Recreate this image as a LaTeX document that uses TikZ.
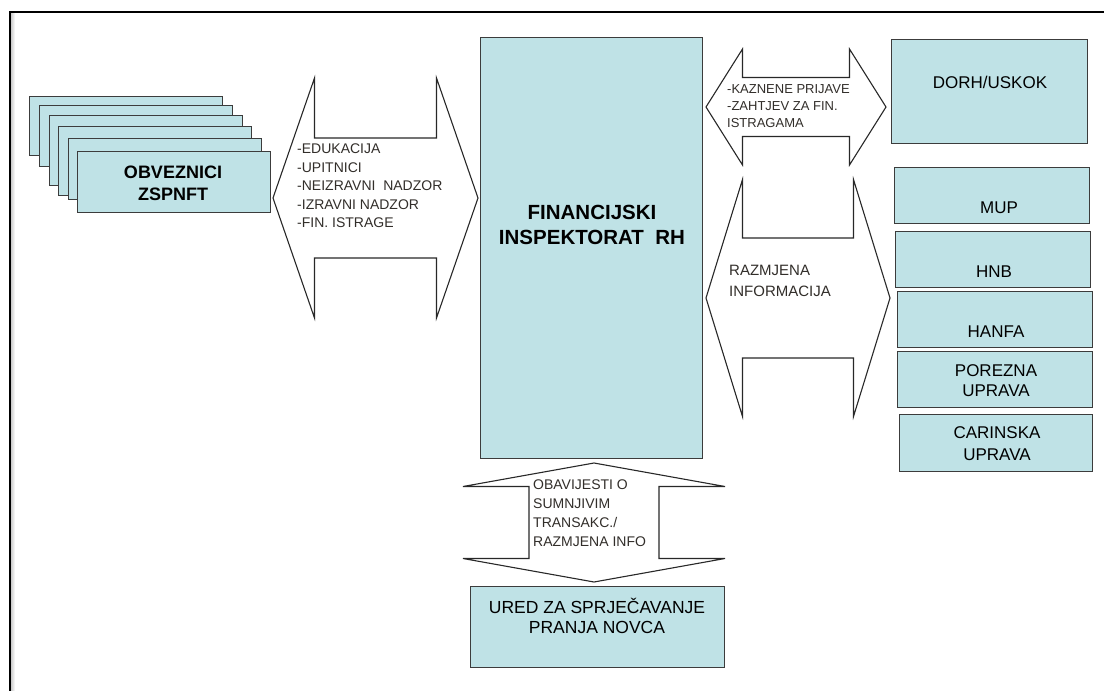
\documentclass[tikz,border=0pt]{standalone}
\usepackage{fontspec}
\setmainfont{Liberation Sans}
\usetikzlibrary{calc}

\definecolor{boxfill}{RGB}{191,226,230}
\definecolor{boxline}{RGB}{60,60,60}
\definecolor{arrline}{RGB}{40,40,40}
\definecolor{arrtext}{RGB}{50,46,42}

\tikzset{
  box/.style={draw=boxline, fill=boxfill, line width=1.4pt, inner sep=0pt, anchor=north west},
  boxtxt/.style={font=\fontsize{17}{21}\selectfont, align=center, text=black, inner sep=0pt},
  bigtxt/.style={font=\bfseries\fontsize{18}{22}\selectfont, align=center, text=black, inner sep=0pt},
  arrtxt/.style={align=left, text=arrtext, anchor=west, inner sep=0pt},
  blockarrow/.style={draw=arrline, fill=white, line width=1.1pt, line join=miter},
}

% double block arrows between two tips
\newcommand{\hblockarrow}[5]{% left tip, right tip, shaft half, head half, head length
  \draw[blockarrow] let \p1=(#1), \p2=(#2) in
    (\p1) -- (\x1+#5,\y1+#4) -- (\x1+#5,\y1+#3) -- (\x2-#5,\y1+#3) -- (\x2-#5,\y1+#4) -- (\p2)
    -- (\x2-#5,\y1-#4) -- (\x2-#5,\y1-#3) -- (\x1+#5,\y1-#3) -- (\x1+#5,\y1-#4) -- cycle;}
\newcommand{\vblockarrow}[5]{% top tip, bottom tip, shaft half, head half, head length
  \draw[blockarrow] let \p1=(#1), \p2=(#2) in
    (\p1) -- (\x1+#4,\y1-#5) -- (\x1+#3,\y1-#5) -- (\x1+#3,\y2+#5) -- (\x1+#4,\y2+#5) -- (\p2)
    -- (\x1-#4,\y2+#5) -- (\x1-#3,\y2+#5) -- (\x1-#3,\y1-#5) -- (\x1-#4,\y1-#5) -- cycle;}

\begin{document}
\begin{tikzpicture}[x=1pt, y=-1pt]
	\useasboundingbox (0,0) rectangle (1104,691);
	% frame
	\shade[left color=black!22, right color=white] (10.6,12.6) rectangle (15,691);
	\draw[line width=1.3pt] (10,691) -- (10,12) -- (1104,12);

	% stacked boxes
	\foreach \x/\y/\h [count=\i] in {29/96/59, 39/105/61, 49/115/70, 58/126/69, 68/138/61, 77/151/61}
		\node[box, minimum width=193pt, minimum height=\h pt] (obv\i) at (\x,\y) {};
	\node[bigtxt] (obvtxt) at (173,183) {OBVEZNICI\\ZSPNFT};

	% central box
	\node[box, minimum width=222pt, minimum height=421pt] (fi) at (480,37) {};
	\node[bigtxt, font=\bfseries\fontsize{20.5}{25}\selectfont] (fitxt) at (592,224.5) {FINANCIJSKI\\INSPEKTORAT\ \ RH};

	% right boxes
	\node[box, minimum width=196pt, minimum height=104pt] (dorh) at (891,39) {};
	\node[box, minimum width=195pt, minimum height=56pt] (mup) at (894,167) {};
	\node[box, minimum width=195pt, minimum height=56pt] (hnb) at (895,231) {};
	\node[box, minimum width=195pt, minimum height=56pt] (hanfa) at (897,291) {};
	\node[box, minimum width=195pt, minimum height=56pt] (porez) at (897,351) {};
	\node[box, minimum width=193pt, minimum height=57pt] (carina) at (899,414) {};
	\node[boxtxt] (dorhtxt) at (990,82) {DORH/USKOK};
	\node[boxtxt] (muptxt) at (999,208) {MUP};
	\node[boxtxt] (hnbtxt) at (994,272) {HNB};
	\node[boxtxt] (hanfatxt) at (996,332) {HANFA};
	\node[boxtxt, font=\fontsize{17}{20}\selectfont] (poreztxt) at (996,381) {POREZNA\\UPRAVA};
	\node[boxtxt, font=\fontsize{17}{22}\selectfont] (carinatxt) at (997,444) {CARINSKA\\UPRAVA};

	% bottom box
	\node[box, minimum width=254pt, minimum height=81pt] (ured) at (470,586) {};
	\node[boxtxt, font=\fontsize{17.5}{20}\selectfont] (uredtxt) at (597,616) {URED ZA SPRJEČAVANJE\\PRANJA NOVCA};

	% arrow tips
	\coordinate (edu-l) at (273,198);
	\coordinate (edu-r) at (478,198);
	\coordinate (kaz-l) at (706,107);
	\coordinate (kaz-r) at (886,107);
	\coordinate (raz-l) at (706,298);
	\coordinate (raz-r) at (890,298);
	\coordinate (obav-t) at (594,463);
	\coordinate (obav-b) at (594,582);

	\hblockarrow{edu-l}{edu-r}{60pt}{120pt}{41.5pt}
	\hblockarrow{kaz-l}{kaz-r}{29.5pt}{58pt}{36.5pt}
	\hblockarrow{raz-l}{raz-r}{60pt}{118.5pt}{36.5pt}
	\vblockarrow{obav-t}{obav-b}{65pt}{131pt}{23.5pt}

	\node[arrtxt, font=\fontsize{14}{18.5}\selectfont] (edutxt) at (297,186)
		{-EDUKACIJA\\-UPITNICI\\-NEIZRAVNI\ \ NADZOR\\-IZRAVNI NADZOR\\-FIN. ISTRAGE};
	\node[arrtxt, font=\fontsize{13}{17}\selectfont] (kaztxt) at (727,106)
		{-KAZNENE PRIJAVE\\-ZAHTJEV ZA FIN.\\ISTRAGAMA};
	\node[arrtxt, font=\fontsize{15}{21}\selectfont] (raztxt) at (729,280.5)
		{RAZMJENA\\INFORMACIJA};
	\node[arrtxt, font=\fontsize{14}{19}\selectfont] (obavtxt) at (533,513.5)
		{OBAVIJESTI O\\SUMNJIVIM\\TRANSAKC./\\RAZMJENA INFO};
\end{tikzpicture}
\end{document}
